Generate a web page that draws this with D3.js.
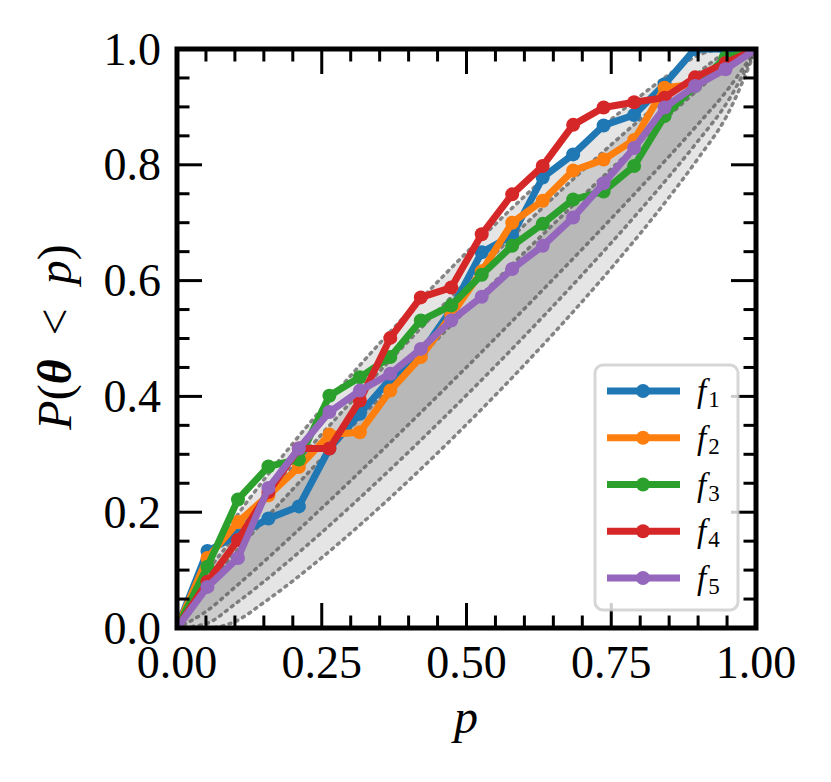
<!DOCTYPE html>
<html>
<head>
<meta charset="utf-8">
<script src="https://cdn.jsdelivr.net/npm/d3@7/dist/d3.min.js"></script>
<style>
  body { margin: 0; background: #fff; }
  svg { display: block; }
  text { font-family: "Liberation Serif", "DejaVu Serif", serif; fill: #000; }
</style>
</head>
<body>
<div id="vis"></div>
<script>
// x positions of the empirical points (20 evenly spaced)
const pVals = [0, 0.0526, 0.1053, 0.1579, 0.2105, 0.2632, 0.3158, 0.3684, 0.4211, 0.4737,
               0.5263, 0.5789, 0.6316, 0.6842, 0.7368, 0.7895, 0.8421, 0.8947, 0.9474, 1];

const seriesNames = ["f1", "f2", "f3", "f4", "f5"];
const f1 = [0, 0.133, 0.16, 0.189, 0.21, 0.31, 0.37, 0.43, 0.474, 0.55,
            0.649, 0.678, 0.778, 0.818, 0.868, 0.886, 0.939, 1, 1, 1];
const f2 = [0, 0.121, 0.183, 0.229, 0.278, 0.334, 0.338, 0.41, 0.468, 0.54,
            0.616, 0.700, 0.738, 0.790, 0.809, 0.843, 0.933, 0.939, 0.968, 1];
const f3 = [0, 0.106, 0.222, 0.279, 0.291, 0.401, 0.433, 0.468, 0.531, 0.557,
            0.610, 0.660, 0.698, 0.740, 0.754, 0.798, 0.884, 0.936, 0.985, 1];
const f4 = [0, 0.08, 0.152, 0.235, 0.31, 0.31, 0.393, 0.501, 0.571, 0.588,
            0.680, 0.749, 0.798, 0.869, 0.899, 0.908, 0.916, 0.951, 0.976, 1];
const f5 = [0, 0.071, 0.121, 0.242, 0.31, 0.373, 0.41, 0.439, 0.482, 0.531,
            0.572, 0.620, 0.660, 0.709, 0.768, 0.829, 0.899, 0.936, 0.965, 1];
const seriesValues = [f1, f2, f3, f4, f5];
const colors = ["#1f77b4", "#ff7f0e", "#2ca02c", "#d62728", "#9467bd"];

// confidence band half-widths (68%, 95%, 99.7%) on a 0.05 grid
const bandGrid = [0, 0.05, 0.1, 0.15, 0.2, 0.25, 0.3, 0.35, 0.4, 0.45, 0.5,
                  0.55, 0.6, 0.65, 0.7, 0.75, 0.8, 0.85, 0.9, 0.95, 1];
const band1 = [0, .0217, .0298, .0355, .0398, .0430, .0456, .0474, .0487, .0494, .0497,
               .0494, .0487, .0474, .0456, .0430, .0398, .0355, .0298, .0217, 0];
const band2 = [0, .0427, .0588, .0700, .0784, .0849, .0898, .0935, .0960, .0975, .0980,
               .0975, .0960, .0935, .0898, .0849, .0784, .0700, .0588, .0427, 0];
const band3 = [0, .0647, .0891, .1061, .1188, .1286, .1361, .1417, .1455, .1478, .1485,
               .1478, .1455, .1417, .1361, .1286, .1188, .1061, .0891, .0647, 0];
const bands = [band3, band2, band1];

const xTicks = [0, 0.25, 0.5, 0.75, 1];
const xTickLabels = ["0.00", "0.25", "0.50", "0.75", "1.00"];
const yTicks = [0, 0.2, 0.4, 0.6, 0.8, 1];
const yTickLabels = ["0.0", "0.2", "0.4", "0.6", "0.8", "1.0"];

const width = 831, height = 782;
const plotL = 177, plotR = 756, plotT = 49, plotB = 628;

const x = d3.scaleLinear().domain([0, 1]).range([plotL, plotR]);
const y = d3.scaleLinear().domain([0, 1]).range([plotB, plotT]);

const svg = d3.select("#vis")
    .append("svg")
    .attr("width", width)
    .attr("height", height);

svg.append("clipPath").attr("id", "plotclip")
  .append("rect")
    .attr("x", plotL).attr("y", plotT)
    .attr("width", plotR - plotL).attr("height", plotB - plotT);

const plot = svg.append("g").attr("clip-path", "url(#plotclip)");

//shaded bands, stacked with low alpha
const area = d3.area()
    .x((d, i) => x(bandGrid[i]))
    .y0((d, i) => y(Math.max(0, bandGrid[i] - d)))
    .y1((d, i) => y(Math.min(1, bandGrid[i] + d)))
    .curve(d3.curveMonotoneX);

plot.selectAll(".band")
    .data(bands)
    .enter().append("path")
    .attr("class", "band")
    .attr("d", area)
    .attr("fill", "#000")
    .attr("fill-opacity", 0.1);

//dotted band edges
const edgeLo = d3.line()
    .x((d, i) => x(bandGrid[i]))
    .y((d, i) => y(Math.max(0, bandGrid[i] - d)))
    .curve(d3.curveMonotoneX);
const edgeHi = d3.line()
    .x((d, i) => x(bandGrid[i]))
    .y((d, i) => y(Math.min(1, bandGrid[i] + d)))
    .curve(d3.curveMonotoneX);

bands.forEach(b => {
  [edgeLo, edgeHi].forEach(gen => {
    plot.append("path")
        .attr("d", gen(b))
        .attr("fill", "none")
        .attr("stroke", "#555")
        .attr("stroke-opacity", 0.7)
        .attr("stroke-width", 3.5)
        .attr("stroke-linecap", "round")
        .attr("stroke-dasharray", "2,5.5");
  });
});

//series lines and markers
const line = d3.line()
    .x((d, i) => x(pVals[i]))
    .y(d => y(d));

seriesValues.forEach((vals, k) => {
  const g = plot.append("g");
  g.append("path")
      .attr("d", line(vals))
      .attr("fill", "none")
      .attr("stroke", colors[k])
      .attr("stroke-width", 7)
      .attr("stroke-linejoin", "round");
  g.selectAll("circle")
      .data(vals)
      .enter().append("circle")
      .attr("cx", (d, i) => x(pVals[i]))
      .attr("cy", d => y(d))
      .attr("r", 7)
      .attr("fill", colors[k]);
});

//ticks, pointing inward on all four sides
const tk = svg.append("g").attr("stroke", "#000").attr("stroke-width", 3);
const minorX = d3.range(0, 21).map(i => i / 20);
const minorY = d3.range(0, 21).map(i => i / 20);
const isMajorX = v => xTicks.some(t => Math.abs(t - v) < 1e-6);
const isMajorY = v => yTicks.some(t => Math.abs(t - v) < 1e-6);

minorX.forEach(v => {
  const len = isMajorX(v) ? 25 : 12.5;
  tk.append("line").attr("x1", x(v)).attr("x2", x(v)).attr("y1", plotB).attr("y2", plotB - len);
  tk.append("line").attr("x1", x(v)).attr("x2", x(v)).attr("y1", plotT).attr("y2", plotT + len);
});
minorY.forEach(v => {
  const len = isMajorY(v) ? 25 : 12.5;
  tk.append("line").attr("y1", y(v)).attr("y2", y(v)).attr("x1", plotL).attr("x2", plotL + len);
  tk.append("line").attr("y1", y(v)).attr("y2", y(v)).attr("x1", plotR).attr("x2", plotR - len);
});

//frame
svg.append("rect")
    .attr("x", plotL).attr("y", plotT)
    .attr("width", plotR - plotL).attr("height", plotB - plotT)
    .attr("fill", "none")
    .attr("stroke", "#000")
    .attr("stroke-width", 5);

//tick labels
svg.selectAll(".xlab")
    .data(xTicks)
    .enter().append("text")
    .attr("x", d => x(d))
    .attr("y", 678)
    .attr("text-anchor", "middle")
    .attr("font-size", 46)
    .text((d, i) => xTickLabels[i]);

svg.selectAll(".ylab")
    .data(yTicks)
    .enter().append("text")
    .attr("x", 161)
    .attr("y", d => y(d) + 15.5)
    .attr("text-anchor", "end")
    .attr("font-size", 46)
    .text((d, i) => yTickLabels[i]);

//axis titles
svg.append("text")
    .attr("x", 466)
    .attr("y", 733)
    .attr("text-anchor", "middle")
    .attr("font-size", 48)
    .attr("font-style", "italic")
    .text("p");

const yt = svg.append("text")
    .attr("transform", "translate(71,337) rotate(-90)")
    .attr("text-anchor", "middle")
    .attr("font-size", 48);
yt.append("tspan").attr("font-style", "italic").text("P");
yt.append("tspan").text("(");
yt.append("tspan").attr("font-style", "italic").attr("font-weight", "bold").text("θ");
yt.append("tspan").text("\u2002<\u2002");
yt.append("tspan").attr("font-style", "italic").text("p");
yt.append("tspan").text(")");

//legend
const lg = svg.append("g");
lg.append("rect")
    .attr("x", 595).attr("y", 365)
    .attr("width", 143).attr("height", 245)
    .attr("rx", 8)
    .attr("fill", "#fff").attr("fill-opacity", 0.8)
    .attr("stroke", "#ccc").attr("stroke-opacity", 0.8)
    .attr("stroke-width", 3);

const rowY = d3.scaleLinear().domain([0, 4]).range([391, 578]);
seriesNames.forEach((name, k) => {
  const ry = rowY(k);
  lg.append("line")
      .attr("x1", 607).attr("x2", 680)
      .attr("y1", ry).attr("y2", ry)
      .attr("stroke", colors[k]).attr("stroke-width", 7);
  lg.append("circle")
      .attr("cx", 643).attr("cy", ry).attr("r", 7)
      .attr("fill", colors[k]);
  const t = lg.append("text")
      .attr("x", 697).attr("y", ry + 11)
      .attr("font-size", 33);
  t.append("tspan").attr("font-style", "italic").text(name[0]);
  t.append("tspan").attr("font-size", 23).attr("dy", 5).attr("dx", 2).text(name.slice(1));
});
</script>
</body>
</html>
